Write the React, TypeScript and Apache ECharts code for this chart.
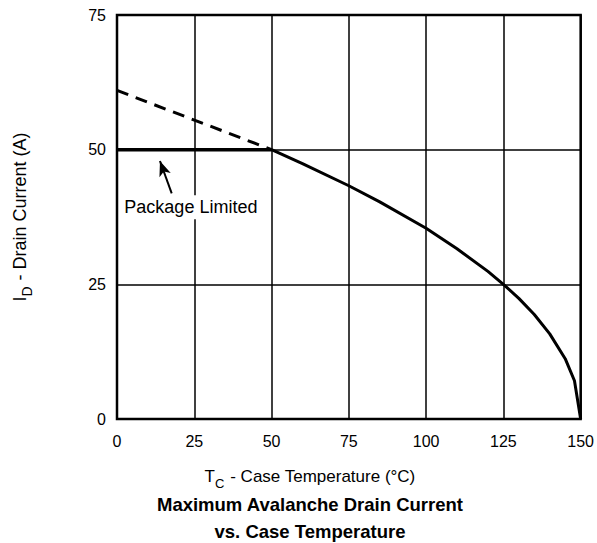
import React, { useEffect, useRef } from "react";
import * as echarts from "echarts";

const xTicks = [0, 25, 50, 75, 100, 125, 150];
const yTicks = [0, 25, 50, 75];
const avalancheCurve: [number, number][] = [
  [50, 50], [60, 47.4], [75, 43.3], [85, 40.3], [100, 35.4], [110, 31.6],
  [120, 27.4], [125, 25], [130, 22.4], [135, 19.4], [140, 15.8], [145, 11.2],
  [148, 7.1], [150, 0],
];
const packageLimit: [number, number][] = [[0, 50], [50, 50]];
const dashedExtension: [number, number][] = [[0, 61], [50, 50]];
const labelPoint: [number, number] = [23.9, 39.3];
const labelText = "Package Limited";
const arrowFrom: [number, number] = [17.7, 41.9];
const arrowTo: [number, number] = [13.9, 47.9];

const FONT = "Liberation Sans, Arial, Helvetica, sans-serif";

export default function App() {
  const ref = useRef<HTMLDivElement>(null);
  useEffect(() => {
    if (!ref.current) return;
    const chart = echarts.init(ref.current, null, { renderer: "svg" });
    const subX = {
      a: { fontSize: 17, fontWeight: "normal", color: "#000", fontFamily: FONT, verticalAlign: "bottom" },
      b: { fontSize: 13, fontWeight: "normal", color: "#000", fontFamily: FONT, verticalAlign: "bottom", padding: [0, 1, -5, 0] },
    };
    const subY = {
      a: { fontSize: 18, fontWeight: "normal", color: "#000", fontFamily: FONT, verticalAlign: "bottom" },
      b: { fontSize: 14, fontWeight: "normal", color: "#000", fontFamily: FONT, verticalAlign: "bottom", padding: [0, 1, -5, 0] },
    };
    chart.setOption({
      animation: false,
      backgroundColor: "#fff",
      textStyle: { fontFamily: FONT },
      title: [
        {
          text: "Maximum Avalanche Drain Current\nvs. Case Temperature",
          left: 310,
          textAlign: "center",
          top: 491,
          padding: 0,
          textStyle: { fontFamily: FONT, fontSize: 18.5, fontWeight: "bold", color: "#000", lineHeight: 27 },
        },
        {
          text: "{a|T}{b|C}{a| - Case Temperature (°C)}",
          left: 310,
          textAlign: "center",
          top: 468,
          padding: 0,
          textStyle: { fontWeight: "normal", rich: subX },
        },
      ],
      grid: {
        left: 117, right: 16, top: 15, bottom: 124,
        show: true, borderColor: "#000", borderWidth: 2.5, backgroundColor: "transparent",
      },
      xAxis: {
        type: "value", min: xTicks[0], max: xTicks[xTicks.length - 1], interval: 25,
        axisLine: { show: false }, axisTick: { show: false },
        splitLine: { show: true, lineStyle: { color: "#000", width: 1.5 } },
        axisLabel: { color: "#000", fontSize: 16, fontFamily: FONT, margin: 14 },
      },
      yAxis: {
        type: "value", min: yTicks[0], max: yTicks[yTicks.length - 1], interval: 25,
        axisLine: { show: false }, axisTick: { show: false },
        splitLine: { show: true, lineStyle: { color: "#000", width: 1.5 } },
        axisLabel: { color: "#000", fontSize: 16, fontFamily: FONT, margin: 11 },
        name: "{a|I}{b|D}{a| - Drain Current (A)}",
        nameLocation: "middle", nameGap: 88, nameRotate: 90,
        nameTextStyle: { rich: subY },
      },
      series: [
        {
          type: "line", data: dashedExtension, showSymbol: false, z: 3,
          lineStyle: { color: "#000", width: 3, type: [12, 8] },
        },
        {
          type: "line", data: packageLimit, showSymbol: false, z: 4,
          lineStyle: { color: "#000", width: 3.5 },
        },
        {
          type: "line", data: avalancheCurve, showSymbol: false, z: 4,
          lineStyle: { color: "#000", width: 3 },
          markLine: {
            silent: true, symbol: ["none", "arrow"], symbolSize: [9, 15],
            lineStyle: { color: "#000", width: 2, type: "solid" },
            label: { show: false },
            data: [[{ coord: arrowFrom }, { coord: arrowTo }]],
          },
        },
      ],
    });
    const p = chart.convertToPixel({ gridIndex: 0 }, labelPoint) as number[];
    chart.setOption({
      graphic: [
        {
          type: "text", x: p[0], y: p[1], z: 10,
          style: {
            text: labelText, fill: "#000", fontSize: 18, fontFamily: FONT,
            align: "center", verticalAlign: "middle",
            backgroundColor: "#fff", padding: [3, 2, 3, 2],
          },
        },
      ],
    });
    return () => chart.dispose();
  }, []);
  return <div ref={ref} style={{ position: "fixed", left: 0, top: 0, width: 597, height: 543 }} />;
}
